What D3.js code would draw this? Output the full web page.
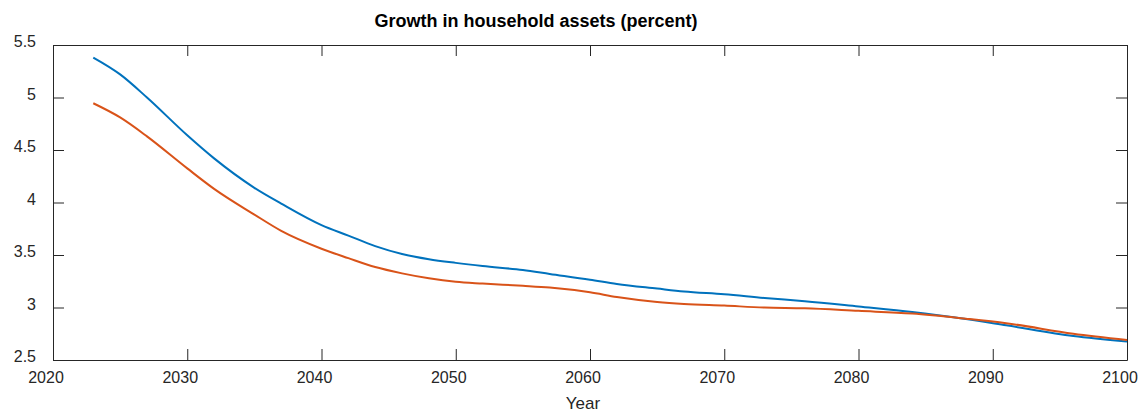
<!DOCTYPE html>
<html>
<head>
<meta charset="utf-8">
<script src="https://cdn.jsdelivr.net/npm/d3@7"></script>
<style>
  html, body { margin: 0; padding: 0; background: #fff; }
  svg { display: block; font-family: "Liberation Sans", Arial, Helvetica, sans-serif; }
</style>
</head>
<body>
<svg id="chart" width="1140" height="414"></svg>
<script>
// Projected growth in household assets, two scenarios (percent per year)
const years = [2023, 2025, 2027, 2030, 2032, 2035, 2037, 2040, 2042, 2044, 2046, 2048, 2050, 2052,
               2055, 2057, 2060, 2062, 2065, 2067, 2070, 2073, 2076, 2080, 2084, 2088, 2091, 2096, 2100];
const seriesA = [5.38, 5.22, 5.00, 4.64, 4.42, 4.14, 3.99, 3.785, 3.685, 3.585, 3.51, 3.46, 3.425, 3.395,
                 3.357, 3.32, 3.265, 3.224, 3.18, 3.152, 3.126, 3.09, 3.06, 3.01, 2.958, 2.89, 2.83, 2.728, 2.675];
const seriesB = [4.945, 4.81, 4.63, 4.325, 4.13, 3.885, 3.73, 3.56, 3.47, 3.385, 3.325, 3.278, 3.245, 3.228,
                 3.207, 3.19, 3.145, 3.10, 3.053, 3.034, 3.018, 3.00, 2.993, 2.968, 2.942, 2.893, 2.85, 2.75, 2.69];
const xTicks = [2020, 2030, 2040, 2050, 2060, 2070, 2080, 2090, 2100];
const yTicks = [2.5, 3, 3.5, 4, 4.5, 5, 5.5];

const titleText = "Growth in household assets (percent)";
const xLabelText = "Year";

(function draw() {
  const plotLeft = 53, plotRight = 1127, plotTop = 45, plotBottom = 360;
  const axisColor = "#262626";
  const tickLen = 11;

  const svg = d3.select("#chart");

  const x = d3.scaleLinear().domain([2020, 2100]).range([plotLeft, plotRight]);
  const y = d3.scaleLinear().domain([2.5, 5.5]).range([plotBottom, plotTop]);

  // Lines
  const line = d3.line()
    .x(d => x(d[0]))
    .y(d => y(d[1]))
    .curve(d3.curveMonotoneX);

  const plot = svg.append("g");
  plot.append("path")
    .datum(years.map((yr, i) => [yr, seriesA[i]]))
    .attr("fill", "none")
    .attr("stroke", "#0072BD")
    .attr("stroke-width", 2)
    .attr("d", line);
  plot.append("path")
    .datum(years.map((yr, i) => [yr, seriesB[i]]))
    .attr("fill", "none")
    .attr("stroke", "#D95319")
    .attr("stroke-width", 2)
    .attr("d", line);

  // Axes: inward ticks on all four sides, labels on bottom and left
  function styleAxis(g) {
    g.select(".domain").attr("stroke", axisColor).attr("stroke-width", 1);
    g.selectAll(".tick line").attr("stroke", axisColor).attr("stroke-width", 1);
    g.selectAll(".tick text")
      .attr("fill", axisColor)
      .style("font-size", "16px")
      .style("font-family", "'Liberation Sans', Arial, Helvetica, sans-serif");
  }

  const xAxis = svg.append("g")
    .attr("transform", `translate(0,${plotBottom})`)
    .call(d3.axisBottom(x).tickValues(xTicks).tickFormat(d3.format("d"))
      .tickSizeInner(-tickLen).tickSizeOuter(0).tickPadding(11.5));
  styleAxis(xAxis);
  xAxis.selectAll(".tick text").attr("dx", -7.5);

  const xAxisTop = svg.append("g")
    .attr("transform", `translate(0,${plotTop})`)
    .call(d3.axisTop(x).tickValues(xTicks).tickFormat("")
      .tickSizeInner(-tickLen).tickSizeOuter(0));
  styleAxis(xAxisTop);

  const yAxis = svg.append("g")
    .attr("transform", `translate(${plotLeft},0)`)
    .call(d3.axisLeft(y).tickValues(yTicks).tickFormat(d3.format("~g"))
      .tickSizeInner(-tickLen).tickSizeOuter(0).tickPadding(17));
  styleAxis(yAxis);
  yAxis.selectAll(".tick text").attr("dy", "0.1em");

  const yAxisRight = svg.append("g")
    .attr("transform", `translate(${plotRight},0)`)
    .call(d3.axisRight(y).tickValues(yTicks).tickFormat("")
      .tickSizeInner(-tickLen).tickSizeOuter(0));
  styleAxis(yAxisRight);

  // Title and axis label
  svg.append("text")
    .attr("x", 536)
    .attr("y", 27)
    .attr("text-anchor", "middle")
    .attr("fill", "#000")
    .style("font-size", "18px")
    .style("font-weight", "bold")
    .text(titleText);

  svg.append("text")
    .attr("x", 583)
    .attr("y", 409)
    .attr("text-anchor", "middle")
    .attr("fill", axisColor)
    .style("font-size", "17px")
    .text(xLabelText);
})();
</script>
</body>
</html>
